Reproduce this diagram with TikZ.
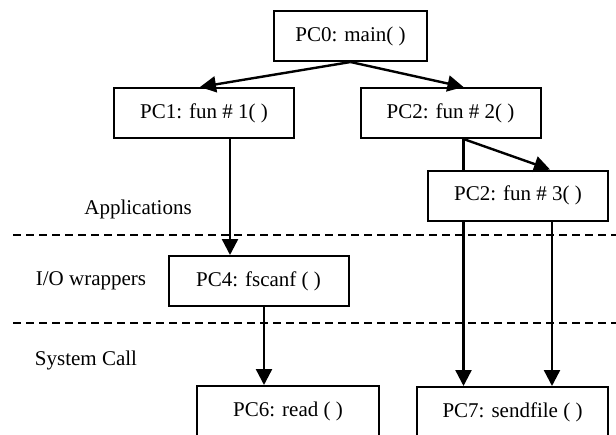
\documentclass[tikz,border=0pt]{standalone}
\usepackage{fontspec}
\setmainfont{Liberation Serif}
\usepackage{tikz}
\usetikzlibrary{arrows.meta}

\tikzset{
    pcbox/.style={draw, fill=white, line width=1pt, inner sep=0pt, minimum height=25pt, minimum width=90pt, font=\fontsize{10.5}{12}\selectfont},
    callarrow/.style={line width=1.2pt, -{Triangle[length=8pt, width=8pt]}},
    layerline/.style={dashed, dash pattern=on 4pt off 2.5pt}
}

\begin{document}
\begin{tikzpicture}[x=0.5pt, y=-0.5pt, line width=1pt]
    \useasboundingbox (0,0) rectangle (616,434);
    \clip (0,0) rectangle (616,434);

    % layer boundaries
    \draw[layerline, line width=0.6pt] (13,235) -- (616,235);
    \draw[layerline, line width=0.9pt] (13,323) -- (616,323);

    \node[font=\fontsize{10.5}{12}\selectfont] (apps) at (138,209) {Applications};
    \node[font=\fontsize{10.5}{12}\selectfont] (wrap) at (91,281) {I/O wrappers};
    \node[font=\fontsize{10.5}{12}\selectfont] (sys) at (86,360) {System Call};

    \node[pcbox, minimum width=76.5pt] (pc0) at (350.5,36) {PC0: main( )};
    \node[pcbox] (pc1) at (204,113) {PC1: fun \# 1( )};
    \node[pcbox] (pc2) at (450.5,113) {PC2: fun \# 2( )};
    \node[pcbox] (pc4) at (258.5,281) {PC4: fscanf ( )};
    \node[pcbox, minimum width=91pt] (pc6) at (288,411) {PC6: read ( )};
    \node[pcbox, minimum width=95.5pt] (pc7) at (512.5,412) {PC7: sendfile ( )};

    % goes behind fun #3
    \draw[callarrow] ([xshift=6.5pt]pc2.south) -- ([xshift=6.5pt]pc2.south |- pc7.north);

    \node[pcbox] (pc3) at (518,195.5) {PC2: fun \# 3( )};

    \draw[callarrow] (pc0.south) -- ([xshift=-2pt]pc1.north);
    \draw[callarrow] (pc0.south) -- ([xshift=6.5pt]pc2.north);
    \draw[callarrow] ([xshift=6.5pt]pc2.south) -- ([xshift=16pt]pc3.north);
    \draw[callarrow] ([xshift=13pt]pc1.south) -- ([xshift=13pt]pc1.south |- pc4.north);
    \draw[callarrow] ([xshift=2.75pt]pc4.south) -- ([xshift=2.75pt]pc4.south |- pc6.north);
    \draw[callarrow] ([xshift=17pt]pc3.south) -- ([xshift=17pt]pc3.south |- pc7.north);
\end{tikzpicture}
\end{document}
